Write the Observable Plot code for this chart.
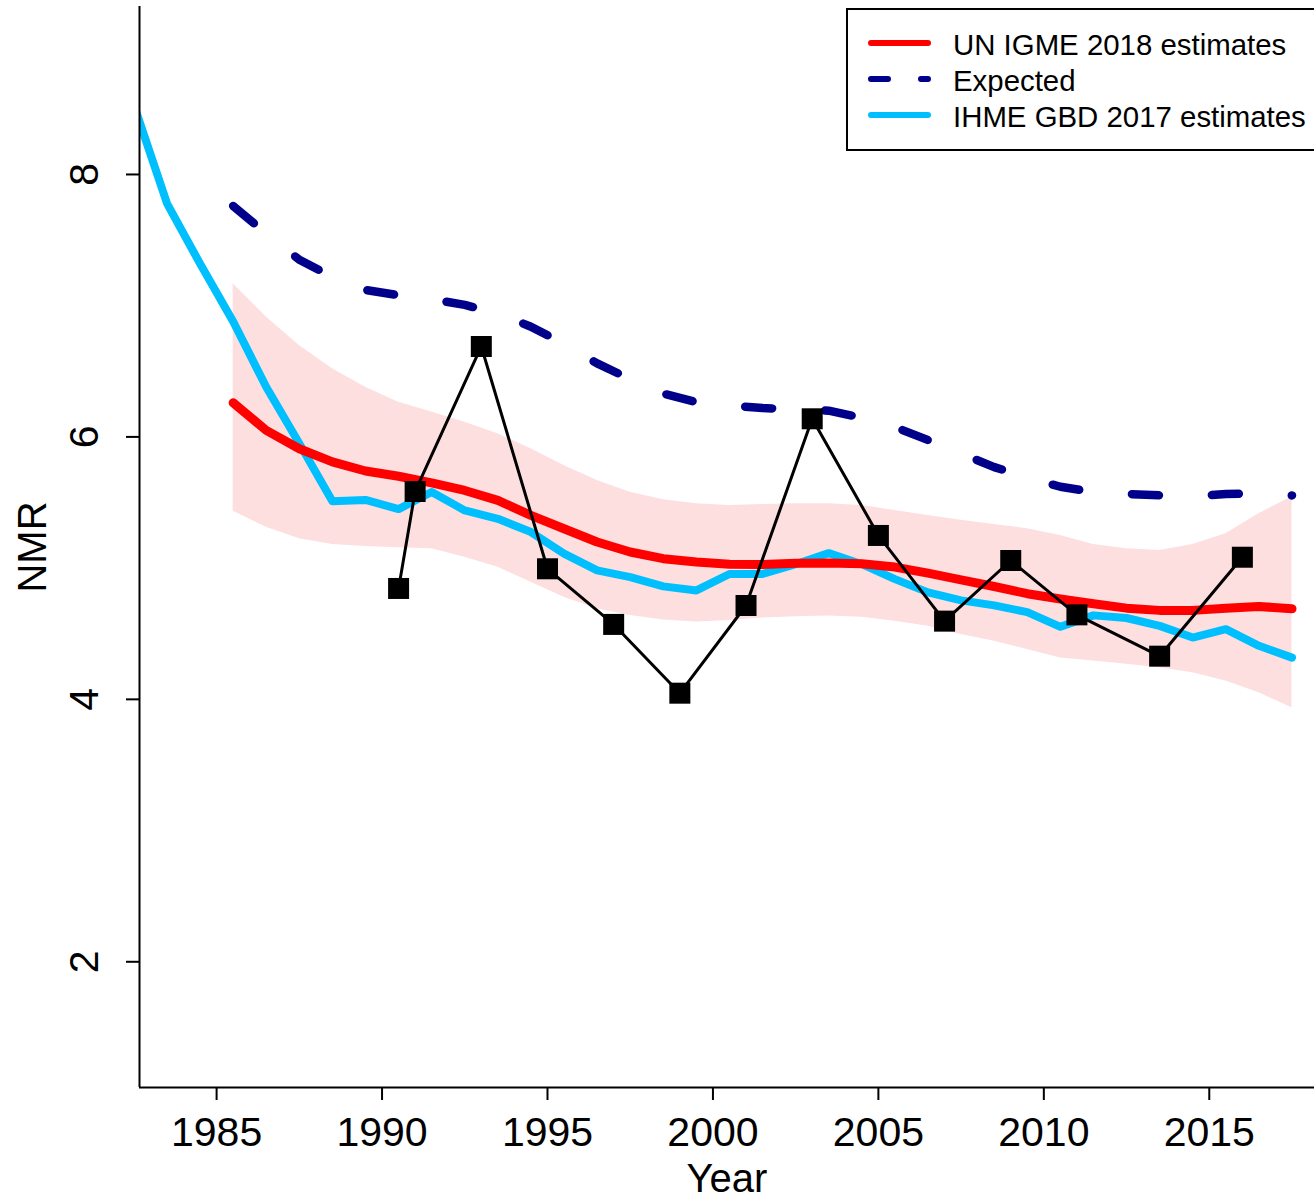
<!DOCTYPE html>
<html>
<head>
<meta charset="utf-8">
<script src="https://cdn.jsdelivr.net/npm/d3@7"></script>
<script src="https://cdn.jsdelivr.net/npm/@observablehq/plot@0.6"></script>
<style>
  html, body { margin: 0; padding: 0; background: #fff; }
  body { width: 1314px; height: 1201px; overflow: hidden; position: relative; font-family: "Liberation Sans", Arial, sans-serif; }
  #chart { position: absolute; left: 0; top: 0; }
  #legend { position: absolute; left: 846px; top: 8px; width: 500px; height: 139px; border: 2px solid #000; background: #fff; }
  #legend svg { display: block; }
</style>
</head>
<body>
<div id="chart"></div>
<div id="legend"></div>
<script>
// ---- data ----
const years = [1985.5, 1986.5, 1987.5, 1988.5, 1989.5, 1990.5, 1991.5, 1992.5, 1993.5, 1994.5, 1995.5,
  1996.5, 1997.5, 1998.5, 1999.5, 2000.5, 2001.5, 2002.5, 2003.5, 2004.5, 2005.5, 2006.5, 2007.5,
  2008.5, 2009.5, 2010.5, 2011.5, 2012.5, 2013.5, 2014.5, 2015.5, 2016.5, 2017.5];
const unIgme = [6.26, 6.05, 5.91, 5.81, 5.74, 5.70, 5.65, 5.592, 5.516, 5.402, 5.30, 5.199, 5.123, 5.072,
  5.047, 5.03, 5.028, 5.038, 5.04, 5.034, 5.008, 4.962, 4.911, 4.86, 4.805, 4.765, 4.729, 4.695, 4.678,
  4.678, 4.695, 4.708, 4.69];
const unLower = [5.434, 5.312, 5.224, 5.18, 5.165, 5.155, 5.147, 5.083, 5.007, 4.893, 4.779, 4.69, 4.639,
  4.605, 4.59, 4.60, 4.62, 4.63, 4.635, 4.625, 4.596, 4.558, 4.494, 4.443, 4.38, 4.316, 4.292, 4.267,
  4.241, 4.203, 4.139, 4.05, 3.936];
const unUpper = [7.167, 6.913, 6.697, 6.519, 6.379, 6.265, 6.19, 6.112, 6.024, 5.91, 5.782, 5.668, 5.579,
  5.521, 5.49, 5.478, 5.485, 5.49, 5.49, 5.478, 5.44, 5.402, 5.364, 5.333, 5.30, 5.249, 5.181, 5.148,
  5.135, 5.181, 5.262, 5.415, 5.542];
const expected = [7.76, 7.55, 7.35, 7.22, 7.12, 7.08, 7.05, 7.006, 6.94, 6.84, 6.71, 6.56, 6.44, 6.33,
  6.265, 6.24, 6.22, 6.21, 6.20, 6.146, 6.074, 5.976, 5.873, 5.77, 5.69, 5.62, 5.58, 5.565, 5.555,
  5.548, 5.565, 5.57, 5.554];
const ihmeYears = [1982.5, 1983.5, 1984.5, 1985.5, 1986.5, 1987.5, 1988.5, 1989.5, 1990.5, 1991.5, 1992.5,
  1993.5, 1994.5, 1995.5, 1996.5, 1997.5, 1998.5, 1999.5, 2000.5, 2001.5, 2002.5, 2003.5, 2004.5,
  2005.5, 2006.5, 2007.5, 2008.5, 2009.5, 2010.5, 2011.5, 2012.5, 2013.5, 2014.5, 2015.5, 2016.5, 2017.5];
const ihme = [8.53, 7.78, 7.32, 6.88, 6.38, 5.95, 5.51, 5.52, 5.45, 5.58, 5.44, 5.376, 5.275, 5.11, 4.983,
  4.932, 4.861, 4.83, 4.955, 4.955, 5.03, 5.114, 5.03, 4.916, 4.815, 4.754, 4.716, 4.665, 4.553, 4.64,
  4.62, 4.56, 4.471, 4.535, 4.408, 4.318];
const obsYears = [1990.5, 1991, 1993, 1995, 1997, 1999, 2001, 2003, 2005, 2007, 2009, 2011, 2013.5, 2016];
const obsNmr = [4.845, 5.584, 6.689, 4.995, 4.571, 4.047, 4.715, 6.138, 5.249, 4.596, 5.058, 4.644, 4.329, 5.083];
const xTicks = [1985, 1990, 1995, 2000, 2005, 2010, 2015];
const yTicks = [2, 4, 6, 8];
const xDomain = [1982.67, 2018.18];
const yDomain = [1.042, 9.28];
const legendLabels = ["UN IGME 2018 estimates", "Expected", "IHME GBD 2017 estimates"];

// ---- tables ----
const unRows = years.map((y, i) => ({year: y, est: unIgme[i], lo: unLower[i], hi: unUpper[i], exp: expected[i]}));
const ihmeRows = ihmeYears.map((y, i) => ({year: y, v: ihme[i]}));
const obsRows = obsYears.map((y, i) => ({year: y, v: obsNmr[i]}));

const RED = "#FF0000", NAVY = "#00008B", SKY = "#00BFFF", BAND = "#FDDFE0";
const FONT = "'Liberation Sans', Arial, sans-serif";

const chart = Plot.plot({
  width: 1314,
  height: 1201,
  marginLeft: 139,
  marginRight: 0,
  marginTop: 6,
  marginBottom: 114,
  style: {fontFamily: FONT, background: "#fff", color: "#000"},
  x: {domain: xDomain, axis: null},
  y: {domain: yDomain, axis: null},
  marks: [
    Plot.areaY(unRows, {x: "year", y1: "lo", y2: "hi", fill: BAND, curve: "linear"}),
    Plot.line(ihmeRows, {x: "year", y: "v", stroke: SKY, strokeWidth: 8, strokeLinejoin: "round", clip: true}),
    Plot.line(unRows, {x: "year", y: "est", stroke: RED, strokeWidth: 9, strokeLinecap: "round", strokeLinejoin: "round"}),
    Plot.line(unRows, {x: "year", y: "exp", stroke: NAVY, strokeWidth: 8.5, strokeDasharray: "27,53", strokeLinecap: "round", strokeLinejoin: "round"}),
    Plot.line(obsRows, {x: "year", y: "v", stroke: "#000", strokeWidth: 3}),
    Plot.dot(obsRows, {x: "year", y: "v", symbol: "square", r: 11.85, fill: "#000", stroke: "none"}),
    Plot.ruleX([xDomain[0]], {stroke: "#000", strokeWidth: 2}),
    Plot.ruleY([yDomain[0]], {stroke: "#000", strokeWidth: 2}),
    Plot.axisX({ticks: xTicks, tickSize: 13, tickPadding: 16, fontSize: 41, tickFormat: d => String(d), label: null, strokeWidth: 2}),
    Plot.axisY({ticks: yTicks, tickSize: 13, tickPadding: 29, tickRotate: -90, fontSize: 41, tickFormat: d => String(d), label: null, strokeWidth: 2}),
    Plot.text(["NMR"], {frameAnchor: "left", dx: -94, rotate: -90, lineAnchor: "bottom", textAnchor: "middle", fontSize: 40, fill: "#000"}),
    Plot.text(["Year"], {frameAnchor: "bottom", dy: 104, lineAnchor: "bottom", textAnchor: "middle", fontSize: 40, fill: "#000"})
  ]
});
document.getElementById("chart").appendChild(chart);

// ---- legend ----
const lg = d3.select("#legend").append("svg").attr("width", 500).attr("height", 139);
const legendStyles = [
  {stroke: RED, dash: null},
  {stroke: NAVY, dash: "17,33"},
  {stroke: SKY, dash: null}
];
legendLabels.forEach((lab, i) => {
  const cy = 33 + i * 36;
  lg.append("line").attr("x1", 23).attr("x2", 80).attr("y1", cy).attr("y2", cy)
    .attr("stroke", legendStyles[i].stroke).attr("stroke-width", 6).attr("stroke-linecap", "round")
    .attr("stroke-dasharray", legendStyles[i].dash);
  lg.append("text").attr("x", 105).attr("y", cy + 12).attr("font-size", 29.4)
    .attr("font-family", FONT).attr("fill", "#000").text(lab);
});
</script>
</body>
</html>
